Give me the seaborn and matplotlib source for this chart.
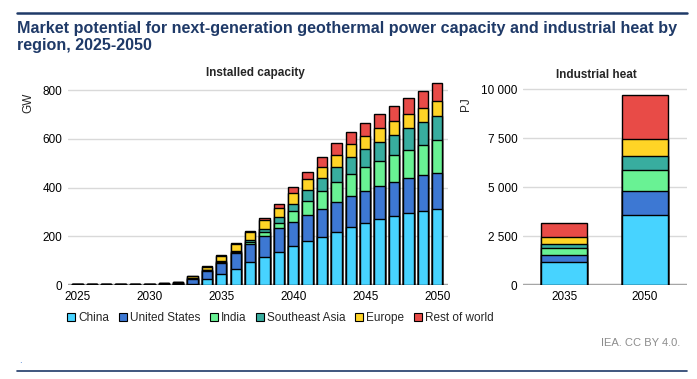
import matplotlib
matplotlib.use("Agg")
import matplotlib.pyplot as plt
from matplotlib.patches import Patch
from matplotlib.lines import Line2D
from matplotlib.ticker import FuncFormatter
import numpy as np
import pandas as pd
import seaborn as sns

sns.set_theme(style="white")
plt.rcParams['font.family'] = ['Liberation Sans', 'DejaVu Sans']

# installed capacity, GW
years = list(range(2025, 2051))
china = [1, 1, 1, 1, 1, 1, 1.5, 3, 5, 25, 44, 64, 94, 114, 134, 159,
         179, 199, 216, 237, 253, 270, 282, 295, 303, 311]
united_states = [2, 3, 3, 3, 3, 3, 4, 6, 20, 32, 45, 66, 73, 86, 99, 101,
                 107, 114, 124, 127, 132, 136, 140, 143, 148, 148]
india = [0, 0, 0, 0, 0, 0, 0.5, 1, 2, 3, 4, 4, 11, 18, 23, 42,
         58, 71, 81, 91, 99, 102, 111, 115, 123, 136]
southeast_asia = [0, 0, 0, 0, 0, 0, 0.5, 1, 2, 3, 4, 7, 7, 12, 22, 32,
                  46, 54, 62, 70, 74, 78, 82, 90, 95, 98]
europe = [0.5, 1, 1, 1, 1, 1, 1.5, 2, 6, 12, 22, 26, 31, 37, 38, 42,
          47, 48, 50, 53, 53, 58, 58, 58, 57, 62]
rest_of_world = [0, 0, 0, 0, 0, 0, 0.5, 1, 2, 3, 3, 5, 6, 7, 17, 26,
                 25, 38, 49, 51, 55, 59, 61, 66, 71, 74]

# industrial heat, PJ
heat_years = ['2035', '2050']
heat_china = [1160, 3560]
heat_us = [360, 1230]
heat_india = [355, 1075]
heat_sea = [205, 700]
heat_europe = [355, 885]
heat_row = [715, 2265]

regions = ['China', 'United States', 'India', 'Southeast Asia', 'Europe', 'Rest of world']
colors = ['#47D3FF', '#3D78D3', '#69F294', '#38AD9F', '#FFD426', '#E84B47']

cap = pd.DataFrame({'China': china, 'United States': united_states, 'India': india,
                    'Southeast Asia': southeast_asia, 'Europe': europe,
                    'Rest of world': rest_of_world}, index=[str(y) for y in years])
heat = pd.DataFrame({'China': heat_china, 'United States': heat_us, 'India': heat_india,
                     'Southeast Asia': heat_sea, 'Europe': heat_europe,
                     'Rest of world': heat_row}, index=heat_years)

fig = plt.figure(figsize=(6.97, 3.79), dpi=100)
ax1 = fig.add_axes([68 / 697, 94 / 379, 380 / 697, 207 / 379])
ax2 = fig.add_axes([523 / 697, 94 / 379, 164 / 697, 207 / 379])


def stacked(ax, df, width):
    cum = df.cumsum(axis=1)
    for reg, col in reversed(list(zip(regions, colors))):
        sns.barplot(x=cum.index, y=cum[reg].values, color=col, saturation=1,
                    edgecolor='black', linewidth=1, width=width, errorbar=None, ax=ax)
    ax.set_xlabel('')
    ax.grid(axis='y', color='#D9D9D9', linewidth=1)
    ax.set_axisbelow(True)
    for s in ax.spines.values():
        s.set_visible(False)
    ax.axhline(0, color='#A6A6A6', linewidth=2.5, zorder=0.8)
    ax.tick_params(axis='both', length=0, labelsize=8.5, colors='black', pad=4)


stacked(ax1, cap, 0.72)
ax1.set_ylim(0, 850)
ax1.set_yticks([0, 200, 400, 600, 800])
ax1.set_xlim(-0.65, 25.75)
ax1.set_xticks([0, 5, 10, 15, 20, 25])
ax1.set_xticklabels(['2025', '2030', '2035', '2040', '2045', '2050'])
ax1.set_ylabel('')
fig.text(28 / 697, 1 - 103 / 379, 'GW', rotation=90, ha='center', va='center', fontsize=8.5)

stacked(ax2, heat, 0.57)
ax2.set_ylim(0, 10570)
ax2.set_yticks([0, 2500, 5000, 7500, 10000])
ax2.yaxis.set_major_formatter(FuncFormatter(lambda v, p: f'{int(v):,}'.replace(',', ' ')))
ax2.set_xlim(-0.51, 1.52)
ax2.set_ylabel('')
fig.text(466 / 697, 1 - 104 / 379, 'PJ', rotation=90, ha='center', va='center', fontsize=8.5)

fig.text(255 / 697, 1 - 73 / 379, 'Installed capacity', ha='center', va='center',
         fontsize=8.5, fontweight='bold')
fig.text(596 / 697, 1 - 75 / 379, 'Industrial heat', ha='center', va='center',
         fontsize=8.5, fontweight='bold')

handles = [Patch(facecolor=c, edgecolor='black', linewidth=0.8, label=r) for r, c in zip(regions, colors)]
fig.legend(handles=handles, loc='center left', bbox_to_anchor=(67 / 697, 1 - 318 / 379),
           ncol=6, frameon=False, fontsize=8.5, handlelength=0.7, handleheight=0.7,
           handletextpad=0.25, columnspacing=0.8, borderaxespad=0, borderpad=0)

navy = '#1F3A68'
fig.add_artist(Line2D([17 / 697, 687 / 697], [1 - 13 / 379, 1 - 13 / 379], color=navy, linewidth=1.8))
fig.add_artist(Line2D([17 / 697, 687 / 697], [1 - 371 / 379, 1 - 371 / 379], color=navy, linewidth=1.2))
fig.text(17 / 697, 1 - 21 / 379, 'Market potential for next-generation geothermal power capacity and industrial heat by\nregion, 2025-2050',
         ha='left', va='top', fontsize=11.6, fontweight='bold', color=navy, linespacing=1.2)
fig.text(680 / 697, 1 - 343 / 379, 'IEA. CC BY 4.0.', ha='right', va='center', fontsize=8, color='#8C8C8C')
fig.text(19 / 697, 1 - 360 / 379, '.', ha='left', va='center', fontsize=7, color='#3D78D3')

fig.savefig('out.png', dpi=100)
